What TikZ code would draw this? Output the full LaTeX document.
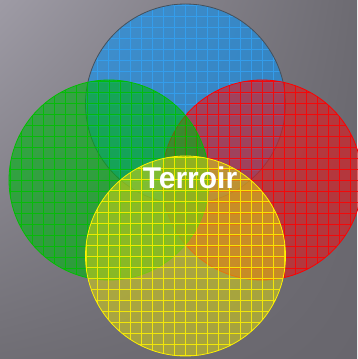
\documentclass[tikz,border=0pt]{standalone}
\usepackage{fontspec}
\setmainfont{Liberation Sans}
\usetikzlibrary{shadings}

\definecolor{bgdark}{RGB}{104,102,109}
\definecolor{bglight}{RGB}{158,155,165}
\definecolor{cblue}{RGB}{15,145,240}
\definecolor{cgreen}{RGB}{0,180,20}
\definecolor{cred}{RGB}{225,25,30}
\definecolor{cyellow}{RGB}{215,210,20}
\definecolor{rimblue}{RGB}{70,80,90}

\begin{document}
\begin{tikzpicture}[
  x=1pt, y=-1pt,
  set/.style={circle, minimum size=200pt, inner sep=0pt, line width=0.8pt,
              fill opacity=0.62, draw opacity=1},
  setgrid/.style={path picture={
      \draw[#1, line width=0.5pt, opacity=0.85]
        (path picture bounding box.south west) grid[step=11pt]
        (path picture bounding box.north east);}},
  label/.style={text=white, font=\bfseries\fontsize{30}{30}\selectfont, inner sep=0pt}]
% background
\shade[upper left=bglight, lower right=bgdark, upper right=bgdark!97!white, lower left=bgdark!95!white]
  (0,0) rectangle (357,359);
\useasboundingbox (0,0) rectangle (357,359);
% the four sets
\node[set, fill=cblue, draw=rimblue, setgrid={cblue!85!white}] (blue) at (185.5,104) {};
\node[set, fill=cred, draw=red, setgrid=red] (red) at (262,180) {};
\node[set, fill=cgreen, draw=green!75!black, setgrid=green!75!black] (green) at (109,180) {};
\node[set, fill=cyellow, draw=yellow, setgrid=yellow, fill opacity=0.55] (yellow) at (185.5,256) {};
\node[label] (terroir) at (190,178) {Terroir};
\end{tikzpicture}
\end{document}
